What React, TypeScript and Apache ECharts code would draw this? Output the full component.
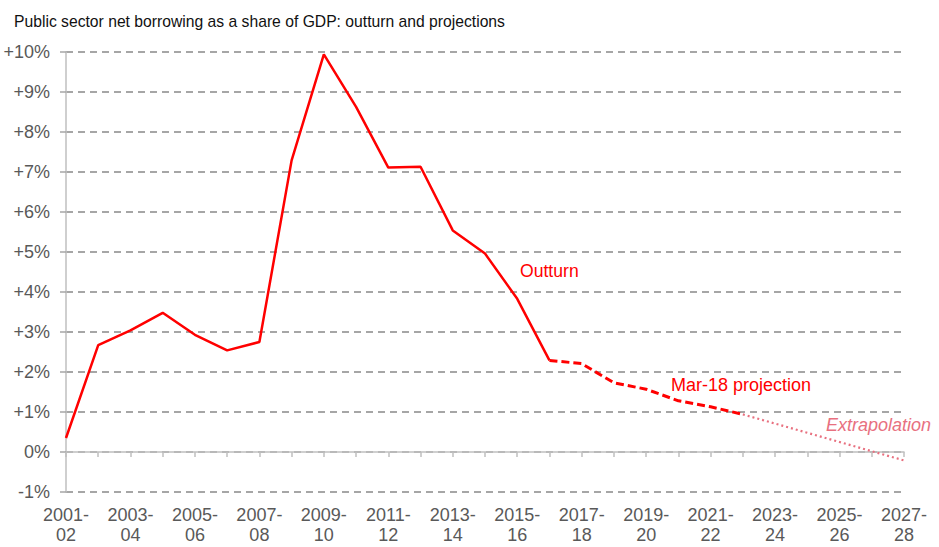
import React, { useEffect, useRef } from "react";
import * as echarts from "echarts";

const years = [
  "2001-02", "2002-03", "2003-04", "2004-05", "2005-06", "2006-07", "2007-08",
  "2008-09", "2009-10", "2010-11", "2011-12", "2012-13", "2013-14", "2014-15",
  "2015-16", "2016-17", "2017-18", "2018-19", "2019-20", "2020-21", "2021-22",
  "2022-23", "2023-24", "2024-25", "2025-26", "2026-27", "2027-28",
];

// Outturn 2001-02 .. 2016-17
const outturn = [0.35, 2.67, 3.04, 3.48, 2.93, 2.54, 2.75, 7.29, 9.94, 8.63, 7.11, 7.13, 5.54, 4.96, 3.83, 2.29];
// Mar-18 projection 2016-17 .. 2022-23
const projectionStart = 15;
const projection = [2.29, 2.21, 1.73, 1.57, 1.28, 1.13, 0.94];
// Extrapolation 2022-23 .. 2027-28
const extrapolationStart = 21;
const extrapolation = [0.94, 0.71, 0.48, 0.25, 0.02, -0.21];

const yTicks = [-1, 0, 1, 2, 3, 4, 5, 6, 7, 8, 9, 10];

function pad(values: number[], start: number): (number | null)[] {
  return years.map((_, i) =>
    i >= start && i < start + values.length ? values[i - start] : null
  );
}

const FONT = "Liberation Sans, Arial, sans-serif";

export default function App() {
  const ref = useRef<HTMLDivElement>(null);

  useEffect(() => {
    if (!ref.current) return;
    const chart = echarts.init(ref.current, undefined, { renderer: "svg" });
    chart.setOption({
      animation: false,
      backgroundColor: "#ffffff",
      textStyle: { fontFamily: FONT },
      title: {
        text: "Public sector net borrowing as a share of GDP: outturn and projections",
        left: 9,
        top: 8,
        textStyle: { fontFamily: FONT, fontSize: 15.7, fontWeight: "normal", color: "#111111" },
      },
      grid: { left: 66, right: 35, top: 52, bottom: 55, containLabel: false },
      xAxis: [
        {
          type: "category",
          data: years,
          boundaryGap: false,
          position: "bottom",
          axisLine: { show: false, onZero: false },
          axisTick: { show: false },
          splitLine: { show: false },
          axisLabel: {
            interval: 1,
            margin: 13,
            fontSize: 18,
            lineHeight: 20,
            color: "#595959",
            fontFamily: FONT,
            formatter: (v: string) => v.replace("-", "-\n"),
          },
        },
        {
          type: "category",
          data: years,
          boundaryGap: false,
          position: "bottom",
          axisLine: { show: true, onZero: true, lineStyle: { color: "#BFBFBF", width: 1.5 } },
          axisTick: { show: true, interval: 0, length: 5, lineStyle: { color: "#BFBFBF", width: 1.5 } },
          axisLabel: { show: false },
          splitLine: { show: false },
        },
      ],
      yAxis: {
        type: "value",
        min: yTicks[0],
        max: yTicks[yTicks.length - 1],
        interval: 1,
        axisLine: { show: true, lineStyle: { color: "#BFBFBF", width: 1.5 } },
        axisTick: { show: true, length: 6, lineStyle: { color: "#A6A6A6", width: 1.5 } },
        splitLine: {
          show: true,
          lineStyle: { color: "#A6A6A6", width: 1.8, type: [7, 5] },
        },
        axisLabel: {
          margin: 16,
          fontSize: 18,
          color: "#595959",
          fontFamily: FONT,
          formatter: (v: number) => (v > 0 ? "+" + v + "%" : v + "%"),
        },
      },
      series: [
        {
          name: "Outturn",
          type: "line",
          xAxisIndex: 0,
          data: pad(outturn, 0),
          showSymbol: false,
          symbol: "none",
          lineStyle: { color: "#FF0000", width: 2.5 },
          z: 5,
        },
        {
          name: "Mar-18 projection",
          type: "line",
          xAxisIndex: 0,
          data: pad(projection, projectionStart),
          showSymbol: false,
          symbol: "none",
          lineStyle: { color: "#FF0000", width: 3, type: [8, 4] },
          z: 4,
        },
        {
          name: "Extrapolation",
          type: "line",
          xAxisIndex: 0,
          data: pad(extrapolation, extrapolationStart),
          showSymbol: false,
          symbol: "none",
          lineStyle: { color: "#E8707F", width: 2.2, type: [2, 3] },
          z: 3,
        },
      ],
      graphic: [
        {
          type: "text",
          left: 520,
          top: 262,
          style: { text: "Outturn", fill: "#FF0000", font: `17.6px ${FONT}` },
        },
        {
          type: "text",
          left: 671,
          top: 376,
          style: { text: "Mar-18 projection", fill: "#FF0000", font: `18px ${FONT}` },
        },
        {
          type: "text",
          left: 826,
          top: 416,
          style: { text: "Extrapolation", fill: "#E8707F", font: `italic 18px ${FONT}` },
        },
      ],
    });
    return () => chart.dispose();
  }, []);

  return (
    <div
      ref={ref}
      style={{ position: "fixed", left: 0, top: 0, width: 939, height: 547 }}
    />
  );
}
